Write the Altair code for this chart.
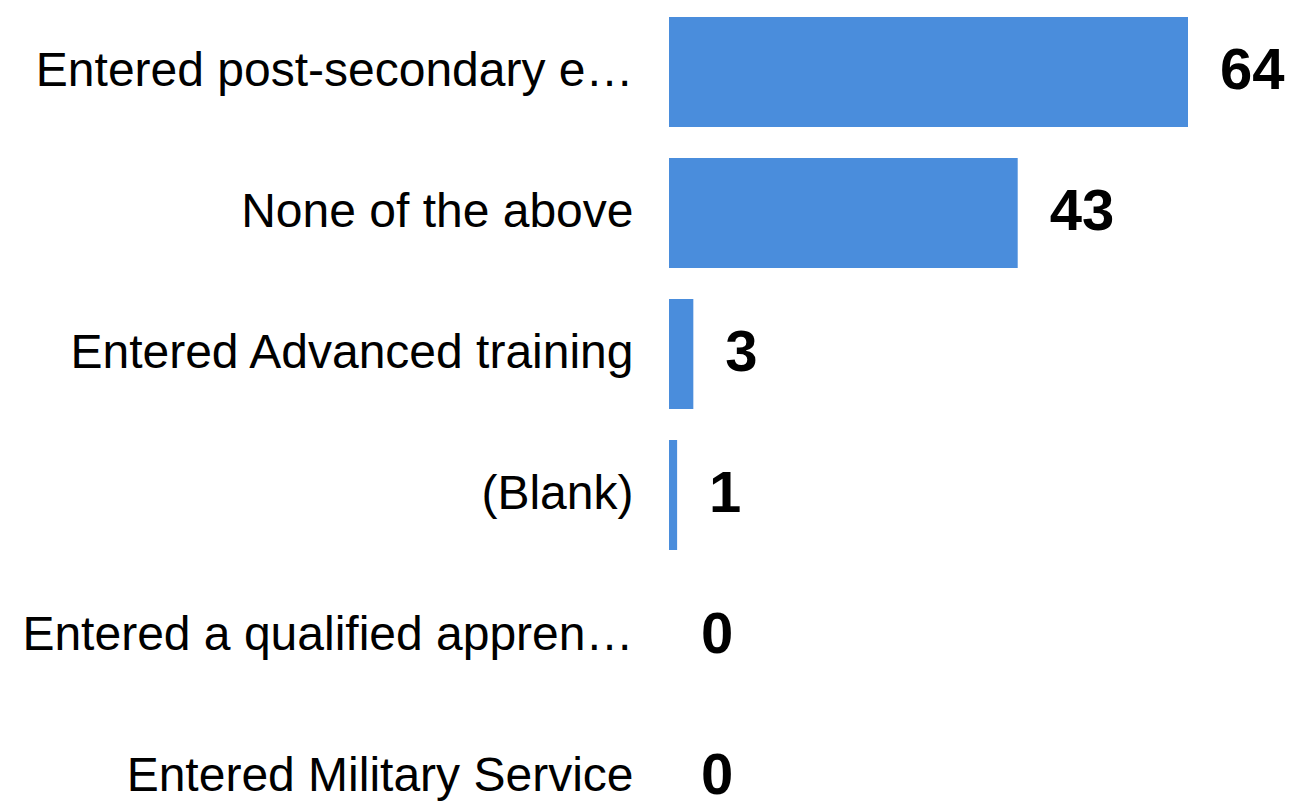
import altair as alt
import pandas as pd

categories = [
    "Entered post-secondary education",
    "None of the above",
    "Entered Advanced training",
    "(Blank)",
    "Entered a qualified apprenticeship program",
    "Entered Military Service",
]
counts = [64, 43, 3, 1, 0, 0]

df = pd.DataFrame({"category": categories, "count": counts})

FONT = "Liberation Sans"

y_enc = alt.Y(
    "category:N",
    sort=categories,
    scale=alt.Scale(paddingInner=0.22, paddingOuter=0.064, range=[0, 833]),
    axis=alt.Axis(
        title=None,
        domain=False,
        ticks=False,
        grid=False,
        labelFont=FONT,
        labelFontSize=48,
        labelColor="#000000",
        labelPadding=36,
        labelLimit=614,
    ),
)

x_enc = alt.X(
    "count:Q",
    scale=alt.Scale(domain=[0, 64], nice=False, zero=True),
    axis=None,
)

bars = alt.Chart(df).mark_bar(color="#4a8ddc").encode(x=x_enc, y=y_enc)

labels = alt.Chart(df).mark_text(
    align="left",
    baseline="middle",
    dx=32,
    font=FONT,
    fontSize=58,
    fontWeight="bold",
    color="#000000",
).encode(x=x_enc, y=alt.Y("category:N", sort=categories), text="count:Q")

chart = (
    alt.layer(bars, labels)
    .properties(
        width=519,
        height=794,
        autosize=alt.AutoSizeParams(type="none"),
        padding={"left": 661, "top": 0, "right": 98, "bottom": 0},
    )
    .configure_view(stroke=None)
)

chart.save("out.html", embed_options={"renderer": "svg", "actions": False})
